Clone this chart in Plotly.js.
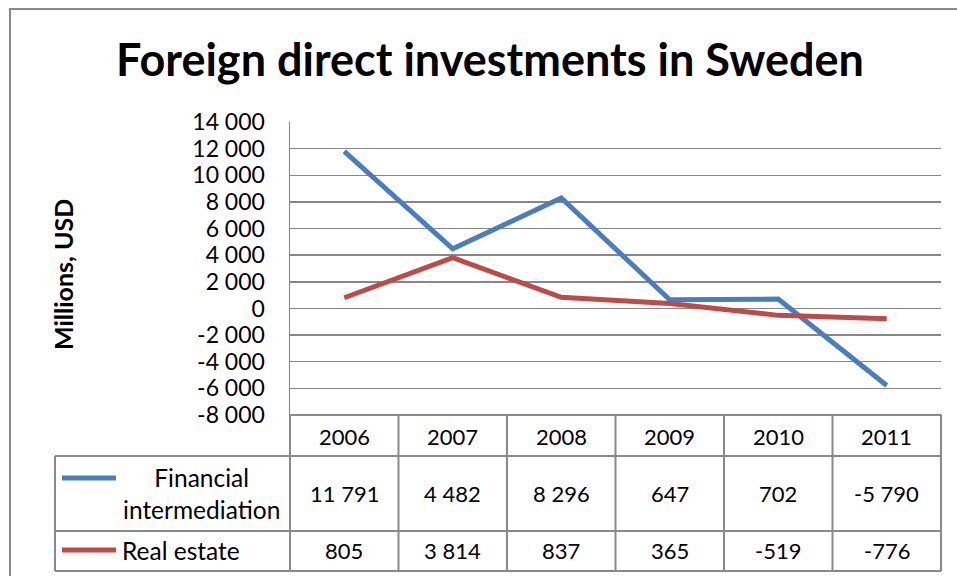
<!DOCTYPE html>
<html>
<head>
<meta charset="utf-8">
<script src="https://cdn.plot.ly/plotly-3.0.1.min.js"></script>
<style>html,body{margin:0;padding:0;background:#fff;}#chart{width:957px;height:576px;}</style>
</head>
<body>
<div id="chart"></div>
<script>
// ---- data ----
const years = ["2006", "2007", "2008", "2009", "2010", "2011"];
const financialIntermediation = [11791, 4482, 8296, 647, 702, -5790];
const realEstate = [805, 3814, 837, 365, -519, -776];
const seriesNames = ["Financial<br>intermediation", "Real estate"];
const yTickValues = [-8000, -6000, -4000, -2000, 0, 2000, 4000, 6000, 8000, 10000, 12000, 14000];

// ---- helpers ----
function fmt(v) {
  const s = Math.abs(v).toString().replace(/\B(?=(\d{3})+(?!\d))/g, " ");
  return (v < 0 ? "-" : "") + s;
}
const W = 957, H = 576;
const L = 290, R = 941, T = 122, B = 415;
const pw = R - L, ph = B - T;
const px = p => (p - L) / pw;
const py = p => (B - p) / ph;

const blue = "#4A7EBB", red = "#BE4B48";
const gridCol = "#878787", tabCol = "#8A8A8A";
const font = "Lato, 'Open Sans', sans-serif";

const traces = [
  {x: years, y: financialIntermediation, type: "scatter", mode: "lines",
   line: {color: blue, width: 5}, name: "Financial intermediation", hoverinfo: "skip"},
  {x: years, y: realEstate, type: "scatter", mode: "lines",
   line: {color: red, width: 5}, name: "Real estate", hoverinfo: "skip"}
];

const n = years.length;
const rowY = [415, 456, 531, 571];
const shapes = [];
const line = (x0, y0, x1, y1, color, width) => shapes.push({
  type: "line", xref: "paper", yref: "paper",
  x0: px(x0), y0: py(y0), x1: px(x1), y1: py(y1),
  line: {color: color, width: width}
});
// outer chart border
shapes.push({type: "rect", xref: "paper", yref: "paper",
  x0: px(10), y0: py(9), x1: px(975), y1: py(600),
  line: {color: "#8A8A8A", width: 2}, fillcolor: "rgba(0,0,0,0)"});
// table horizontal lines
line(L, rowY[0], R, rowY[0], tabCol, 2);
for (let k = 1; k < rowY.length; k++) line(55, rowY[k], R, rowY[k], tabCol, 2);
// table vertical lines
line(55, rowY[1], 55, rowY[3], tabCol, 2);
for (let i = 0; i <= n; i++) {
  shapes.push({type: "line", xref: "paper", yref: "paper",
    x0: i / n, x1: i / n, y0: py(rowY[0]), y1: py(rowY[3]),
    line: {color: tabCol, width: 2}});
}
// legend keys
line(62, 478, 116, 478, blue, 5);
line(62, 550, 116, 550, red, 5);

const annotations = [];
const tf = {family: font, size: 22, color: "#000"};
const lf = {family: font, size: 24.5, color: "#000"};
years.forEach((yr, i) => {
  const cx = (i + 0.5) / n;
  annotations.push({xref: "paper", yref: "paper", x: cx, y: py(436), text: yr,
    showarrow: false, xanchor: "center", yanchor: "middle", font: tf});
  annotations.push({xref: "paper", yref: "paper", x: cx, y: py(493), text: fmt(financialIntermediation[i]),
    showarrow: false, xanchor: "center", yanchor: "middle", font: tf});
  annotations.push({xref: "paper", yref: "paper", x: cx, y: py(550), text: fmt(realEstate[i]),
    showarrow: false, xanchor: "center", yanchor: "middle", font: tf});
});
annotations.push({xref: "paper", yref: "paper", x: px(201), y: py(493), text: seriesNames[0],
  showarrow: false, xanchor: "center", yanchor: "middle", font: lf, align: "center"});
annotations.push({xref: "paper", yref: "paper", x: px(120), y: py(550), text: seriesNames[1],
  showarrow: false, xanchor: "left", yanchor: "middle", font: lf, align: "left"});
// y axis title
annotations.push({xref: "paper", yref: "paper", x: px(63), y: py(275), text: "<b>Millions, USD</b>",
  showarrow: false, xanchor: "center", yanchor: "middle", textangle: -90,
  font: {family: font, size: 25, color: "#000"}});

const layout = {
  width: W, height: H,
  margin: {l: L, r: W - R, t: T, b: H - B, pad: 0},
  paper_bgcolor: "#fff", plot_bgcolor: "#fff",
  showlegend: false,
  title: {text: "<b>Foreign direct investments in Sweden</b>", x: 490 / W, xanchor: "center",
    xref: "container", yref: "container", y: 1 - 60 / H, yanchor: "middle",
    font: {family: font, size: 45, color: "#000"}},
  xaxis: {type: "category", range: [-0.5, n - 0.5], showticklabels: false, showgrid: false,
    zeroline: false, showline: false, ticks: "", fixedrange: true},
  yaxis: {range: [-8000, 14000], tickvals: yTickValues, ticktext: yTickValues.map(fmt),
    showgrid: true, gridcolor: gridCol, gridwidth: 1.5, zeroline: false,
    showline: true, linecolor: gridCol, linewidth: 1.5, ticks: "",
    ticklabelstandoff: 19, tickfont: {family: font, size: 23, color: "#000"}, fixedrange: true},
  shapes: shapes,
  annotations: annotations
};

Plotly.newPlot("chart", traces, layout, {displayModeBar: false, staticPlot: true});
</script>
</body>
</html>
